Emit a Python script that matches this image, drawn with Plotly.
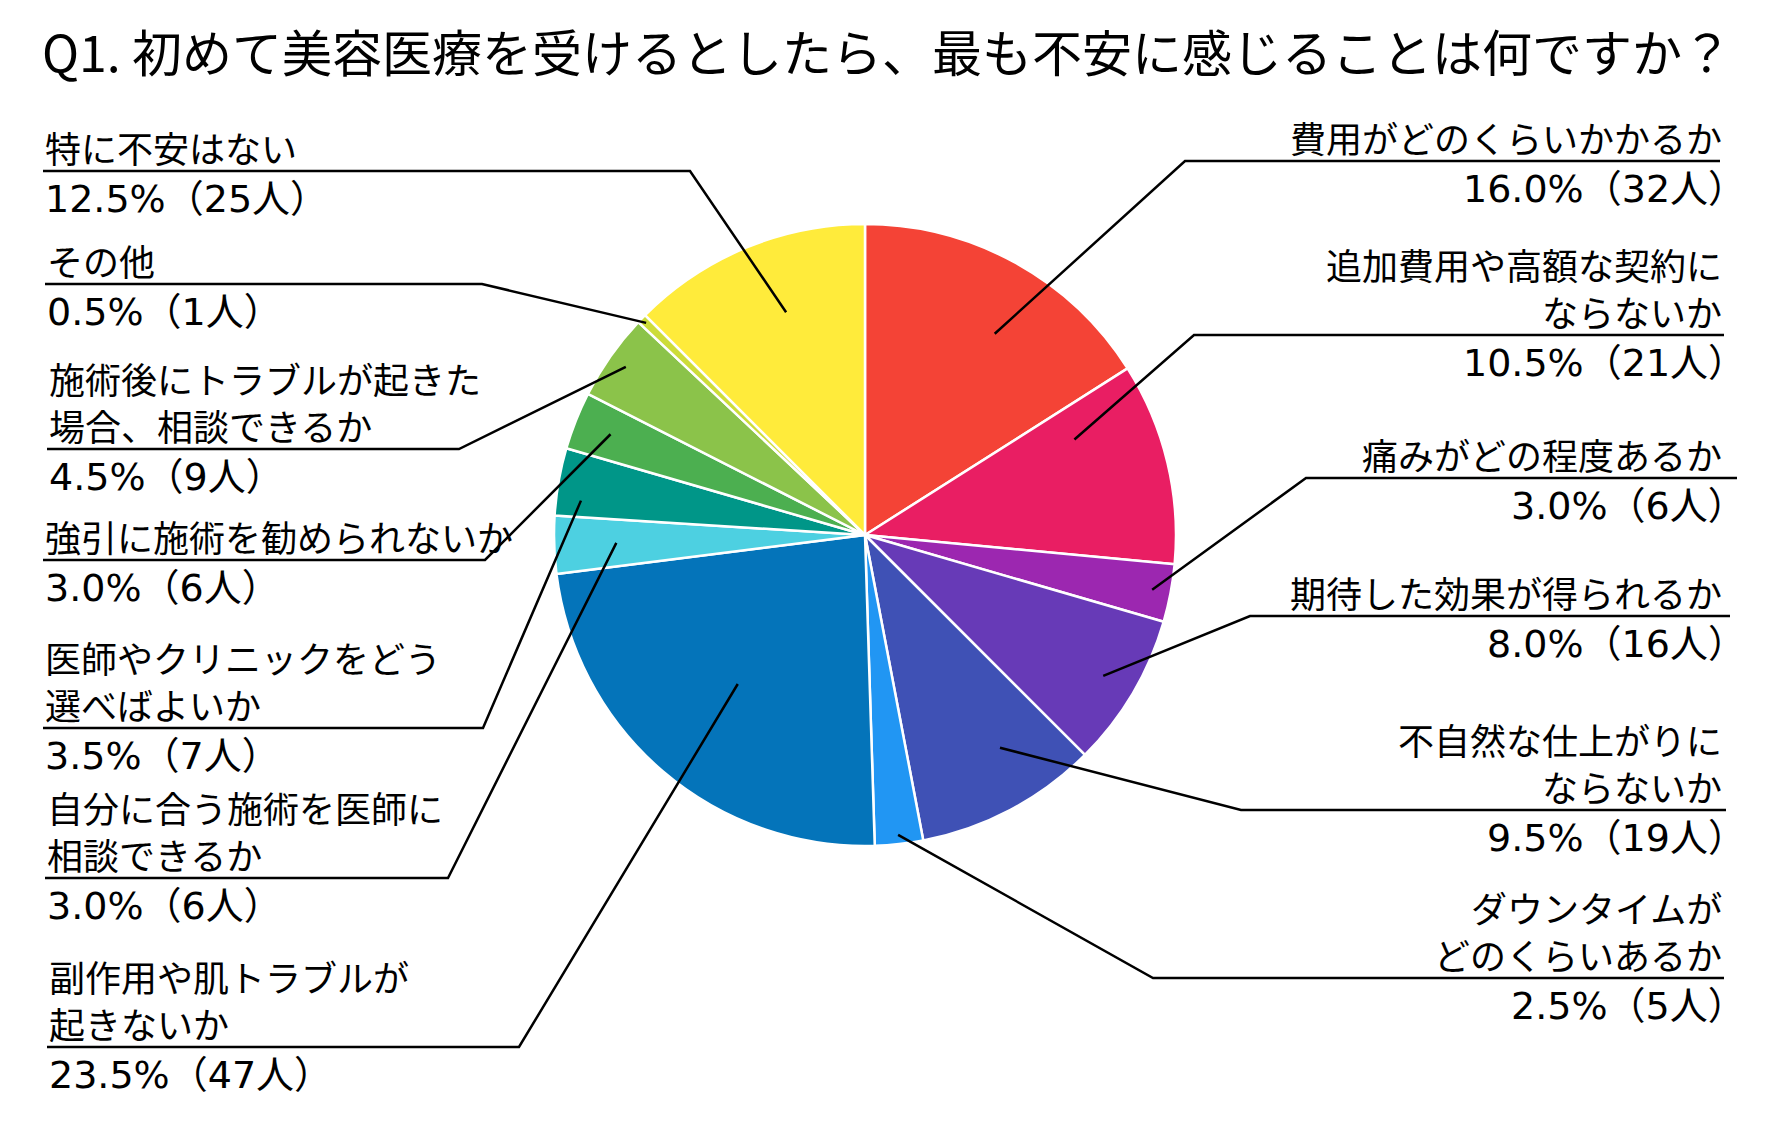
import math
import plotly.graph_objects as go

# ---------------- data ----------------
labels = [
    "費用がどのくらいかかるか",
    "追加費用や高額な契約に<br>ならないか",
    "痛みがどの程度あるか",
    "期待した効果が得られるか",
    "不自然な仕上がりに<br>ならないか",
    "ダウンタイムが<br>どのくらいあるか",
    "副作用や肌トラブルが<br>起きないか",
    "自分に合う施術を医師に<br>相談できるか",
    "医師やクリニックをどう<br>選べばよいか",
    "強引に施術を勧められないか",
    "施術後にトラブルが起きた<br>場合、相談できるか",
    "その他",
    "特に不安はない",
]
percents = [16.0, 10.5, 3.0, 8.0, 9.5, 2.5, 23.5, 3.0, 3.5, 3.0, 4.5, 0.5, 12.5]
counts = [32, 21, 6, 16, 19, 5, 47, 6, 7, 6, 9, 1, 25]
colors = ["#F44336", "#E91E63", "#9C27B0", "#673AB7", "#3F51B5", "#2196F3",
          "#0474BA", "#4DD0E1", "#009688", "#4CAF50", "#8BC34A", "#CDDC39", "#FFEB3B"]
title_text = "Q1. 初めて美容医療を受けるとしたら、最も不安に感じることは何ですか？"

# ---------------- layout (pixels) ----------------
W, H = 1769, 1126
CX, CY, R = 865, 535, 311
FONT = "Noto Sans CJK JP"
PCT_FONT = "DejaVu Sans, Noto Sans CJK JP"
FS = 36
PFS = 38
LINE_H = 47

# per label: side, underline y, line start x, line end x, anchor radius fraction, anchor angle offset (deg)
side = ["R", "R", "R", "R", "R", "R", "L", "L", "L", "L", "L", "L", "L"]
line_y = [161, 335, 478, 616, 810, 978, 1047, 878, 728, 560, 449, 284, 171]
line_x0 = [1185, 1194, 1306, 1250, 1241, 1153, 47, 45, 43, 43, 47, 45, 43]
line_x1 = [1720, 1724, 1737, 1730, 1726, 1724, 519, 448, 483, 485, 459, 482, 690]
anchor_f = [0.77, 0.74, 0.94, 0.89, 0.81, 0.97, 0.63, 0.80, 0.92, 0.88, 0.94, 0.98, 0.76]
anchor_da = [4, -11, 0, 0, -4.5, 0, 0, 0, -3, 0, 0, 0, 3]
RIGHT_TEXT_X = 1724
RIGHT_PCT_X = 1748


def px(x):
    return x / W


def py(y):
    return 1 - y / H


fig = go.Figure()
fig.add_trace(go.Pie(
    values=counts,
    labels=[l.replace("<br>", "") for l in labels],
    sort=False,
    direction="clockwise",
    rotation=0,
    marker=dict(colors=colors, line=dict(color="white", width=2.5)),
    textinfo="none",
    hoverinfo="label+percent",
    showlegend=False,
    domain=dict(x=[px(CX - R), px(CX + R)], y=[py(CY + R), py(CY - R)]),
))

annotations = []
shapes = []
total = sum(counts)
cum = 0
for i, lab in enumerate(labels):
    mid = (cum + counts[i] / 2) / total * 2 * math.pi + math.radians(anchor_da[i])
    cum += counts[i]
    ax = CX + anchor_f[i] * R * math.sin(mid)
    ay = CY - anchor_f[i] * R * math.cos(mid)
    ly = line_y[i]
    if side[i] == "R":
        elbow, end = line_x0[i], line_x1[i]
        tx, ptx, anchor = RIGHT_TEXT_X, RIGHT_PCT_X, "right"
    else:
        elbow, end = line_x1[i], line_x0[i]
        tx, ptx, anchor = line_x0[i], line_x0[i], "left"
    path = f"M {px(ax)} {py(ay)} L {px(elbow)} {py(ly)} L {px(end)} {py(ly)}"
    shapes.append(dict(type="path", xref="paper", yref="paper", path=path,
                       line=dict(color="black", width=2.5)))
    lines = lab.split("<br>")
    n = len(lines)
    for j, t in enumerate(lines):
        y = ly - 24 - (n - 1 - j) * LINE_H
        annotations.append(dict(x=px(tx), y=py(y), xref="paper", yref="paper",
                                xanchor=anchor, yanchor="middle", showarrow=False,
                                text=t, font=dict(family=FONT, size=FS, color="black")))
    pct = f"{percents[i]:.1f}%（{counts[i]}人）"
    annotations.append(dict(x=px(ptx), y=py(ly + 28), xref="paper", yref="paper",
                            xanchor=anchor, yanchor="middle", showarrow=False,
                            text=pct, font=dict(family=PCT_FONT, size=PFS, color="black")))

annotations.append(dict(x=px(40), y=py(50), xref="paper", yref="paper",
                        xanchor="left", yanchor="middle", showarrow=False,
                        text=title_text, font=dict(family=FONT, size=50, color="black")))

fig.update_layout(
    width=W, height=H,
    margin=dict(l=0, r=0, t=0, b=0),
    paper_bgcolor="white", plot_bgcolor="white",
    annotations=annotations, shapes=shapes,
    font=dict(family=FONT),
)
fig.write_html("out.html")
